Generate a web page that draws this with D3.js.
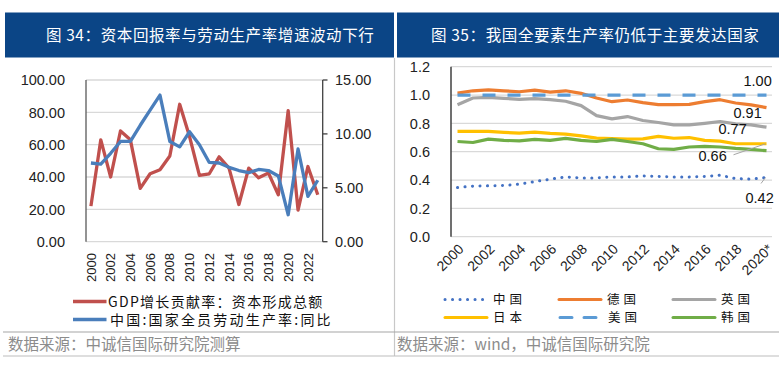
<!DOCTYPE html>
<html><head><meta charset="utf-8">
<script src="https://cdn.jsdelivr.net/npm/d3@7"></script>
<style>
body{margin:0;background:#fff;}
svg text{font-family:"Liberation Sans","Noto Sans CJK SC",sans-serif;}
.cjk{font-family:"Noto Sans CJK SC",sans-serif;}
</style></head>
<body><svg id="c" width="779" height="377"></svg>
<script>
// ---------- Left chart data ----------
const yearsL = d3.range(2000, 2024);
const capitalContrib = [22,63,40,68.5,63,33,42,44.5,53,85,65,41,42,52.5,45.5,23,45.5,39.5,42.5,29,81,19.5,46.5,29];
const laborProd = [7.3,7.2,8.2,9.3,9.3,10.8,12.2,13.6,9.3,8.8,10.2,9.0,7.35,7.3,6.9,6.6,6.4,6.7,6.6,6.1,2.5,8.6,4.2,5.7];
const leftTicksL = [0,20,40,60,80,100];
const rightTicksL = [0,5,10,15];
const seriesNamesL = ["GDP增长贡献率：资本形成总额","中国:国家全员劳动生产率:同比"];

// ---------- Right chart data ----------
const yearsR = d3.range(2000, 2021);
const china   = [0.347,0.357,0.359,0.361,0.371,0.389,0.406,0.422,0.415,0.415,0.422,0.422,0.429,0.425,0.422,0.422,0.425,0.434,0.41,0.406,0.418];
const germany = [1.014,1.03,1.037,1.03,1.023,1.035,1.021,1.03,1.012,0.979,0.953,0.965,0.946,0.932,0.932,0.934,0.953,0.967,0.944,0.93,0.911];
const uk      = [0.932,0.979,0.984,0.977,0.97,0.974,0.967,0.956,0.925,0.855,0.832,0.848,0.82,0.806,0.789,0.789,0.80,0.813,0.796,0.789,0.773];
const japan   = [0.743,0.743,0.743,0.736,0.731,0.738,0.729,0.724,0.712,0.696,0.692,0.689,0.691,0.708,0.695,0.70,0.68,0.675,0.656,0.656,0.656];
const usa     = [1,1,1,1,1,1,1,1,1,1,1,1,1,1,1,1,1,1,1,1,1];
const korea   = [0.672,0.665,0.689,0.68,0.677,0.687,0.68,0.694,0.68,0.672,0.687,0.672,0.656,0.621,0.616,0.633,0.637,0.633,0.623,0.616,0.607];
const ticksR = [0,0.2,0.4,0.6,0.8,1.0,1.2];
const xLabelsR = ["2000","2002","2004","2006","2008","2010","2012","2014","2016","2018","2020*"];

const svg = d3.select("#c");

// ---------- Headers ----------
const hdrColor = "#0b4586";
svg.append("rect").attr("x",5).attr("y",12.5).attr("width",389).attr("height",45).attr("fill",hdrColor);
svg.append("rect").attr("x",397).attr("y",12.5).attr("width",382).attr("height",45).attr("fill",hdrColor);
svg.append("text").attr("class","cjk").attr("x",46).attr("y",41).attr("fill","#fff")
  .attr("font-size",15.5).attr("letter-spacing",0.6).text("图 34：资本回报率与劳动生产率增速波动下行");
svg.append("text").attr("class","cjk").attr("x",431).attr("y",41).attr("fill","#fff")
  .attr("font-size",15.5).attr("letter-spacing",0.6).text("图 35：我国全要素生产率仍低于主要发达国家");

// dividers
svg.append("line").attr("x1",394.5).attr("x2",394.5).attr("y1",58).attr("y2",356).attr("stroke","#c8c8c8").attr("stroke-width",1.2);
svg.append("line").attr("x1",3).attr("x2",779).attr("y1",332).attr("y2",332).attr("stroke","#a6a6a6").attr("stroke-width",1.2);
svg.append("line").attr("x1",3).attr("x2",779).attr("y1",356).attr("y2",356).attr("stroke","#bdbdbd").attr("stroke-width",1.2);
svg.append("text").attr("class","cjk").attr("x",8).attr("y",349.5).attr("fill","#8c8c8c").attr("font-size",15.5).text("数据来源：中诚信国际研究院测算");
svg.append("text").attr("class","cjk").attr("x",397).attr("y",349.5).attr("fill","#8c8c8c").attr("font-size",15.5).text("数据来源：wind，中诚信国际研究院");

// ---------- Left chart ----------
{
  const x = d3.scaleBand().domain(yearsL).range([86, 322.7]);
  const cx = d => x(d) + x.bandwidth()/2;
  const yL = d3.scaleLinear().domain([0,100]).range([241.7, 80]);
  const yR = d3.scaleLinear().domain([0,15]).range([241.7, 80]);
  const g = svg.append("g");
  g.selectAll(".gl").data(leftTicksL).join("line")
    .attr("x1",86).attr("x2",322.7).attr("y1",d=>yL(d)).attr("y2",d=>yL(d))
    .attr("stroke","#d9d9d9").attr("stroke-width",1.3);
  g.append("line").attr("x1",86).attr("x2",86).attr("y1",80).attr("y2",241.7).attr("stroke","#595959").attr("stroke-width",1.3);
  g.append("line").attr("x1",322.7).attr("x2",322.7).attr("y1",80).attr("y2",241.7).attr("stroke","#404040").attr("stroke-width",1.3);
  g.selectAll(".rt").data(rightTicksL).join("line")
    .attr("x1",322.7).attr("x2",327.5).attr("y1",d=>yR(d)).attr("y2",d=>yR(d)).attr("stroke","#404040").attr("stroke-width",1.3);
  g.selectAll(".ltl").data(leftTicksL).join("text")
    .attr("x",65).attr("y",d=>yL(d)).attr("dy","0.36em").attr("text-anchor","end")
    .attr("font-size",14.5).attr("fill","#222").text(d=>d.toFixed(2));
  g.selectAll(".rtl").data(rightTicksL).join("text")
    .attr("x",335).attr("y",d=>yR(d)).attr("dy","0.36em")
    .attr("font-size",14.5).attr("fill","#222").text(d=>d.toFixed(2));
  g.selectAll(".xl").data(yearsL.filter(d=>d%2===0)).join("text")
    .attr("transform",d=>`translate(${cx(d)+4.6},253) rotate(-90)`)
    .attr("text-anchor","end").attr("font-size",13).attr("fill","#222").text(d=>d);
  const line1 = d3.line().x((d,i)=>cx(yearsL[i])).y(d=>yL(d));
  const line2 = d3.line().x((d,i)=>cx(yearsL[i])).y(d=>yR(d));
  g.append("path").attr("d",line1(capitalContrib)).attr("fill","none").attr("stroke","#c0504d").attr("stroke-width",3.3).attr("stroke-linejoin","round");
  g.append("path").attr("d",line2(laborProd)).attr("fill","none").attr("stroke","#4a7ebb").attr("stroke-width",3.3).attr("stroke-linejoin","round");
  // legend
  const lc = ["#c0504d","#4a7ebb"];
  const ly = [301.5, 319.5];
  seriesNamesL.forEach((n,i)=>{
    g.append("line").attr("x1",73).attr("x2",106.5).attr("y1",ly[i]).attr("y2",ly[i]).attr("stroke",lc[i]).attr("stroke-width",3.3);
    g.append("text").attr("class","cjk").attr("x",i===0?108:110).attr("y",ly[i]).attr("dy","0.36em")
      .attr("font-size",14).attr("letter-spacing",i===0?1.3:2.2).attr("fill","#111").text(n);
  });
}

// ---------- Right chart ----------
{
  const x = d3.scalePoint().domain(yearsR).range([457.5, 766.5]);
  const y = d3.scaleLinear().domain([0,1.2]).range([236.7, 66.7]);
  const g = svg.append("g");
  g.selectAll(".gl").data(ticksR).join("line")
    .attr("x1",451).attr("x2",772).attr("y1",d=>y(d)).attr("y2",d=>y(d))
    .attr("stroke","#d9d9d9").attr("stroke-width",1.3);
  g.append("line").attr("x1",451).attr("x2",451).attr("y1",66.7).attr("y2",236.7).attr("stroke","#404040").attr("stroke-width",1.5);
  g.selectAll(".yl").data(ticksR).join("text")
    .attr("x",430).attr("y",d=>y(d)).attr("dy","0.36em").attr("text-anchor","end")
    .attr("font-size",14.5).attr("fill","#222").text(d=>d.toFixed(1));
  g.selectAll(".xl").data(xLabelsR).join("text")
    .attr("transform",(d,i)=>`translate(${x(2000+2*i)+7},250) rotate(-45)`)
    .attr("text-anchor","end").attr("font-size",14).attr("fill","#222").text(d=>d);
  const series = [
    {v:germany, c:"#ed7d31", dash:null},
    {v:uk, c:"#a5a5a5", dash:null},
    {v:japan, c:"#ffc000", dash:null},
    {v:korea, c:"#70ad47", dash:null},
    {v:usa, c:"#5b9bd5", dash:"13 12"},
    {v:china, c:"#4472c4", dash:"0.1 7.4"}
  ];
  const ln = d3.line().x((d,i)=>x(yearsR[i])).y(d=>y(d));
  series.forEach(s=>{
    const dotted = s.dash && s.dash.startsWith("0.1");
    g.append("path").attr("d",ln(s.v)).attr("fill","none").attr("stroke",s.c)
      .attr("stroke-width",dotted?3:3.2)
      .attr("stroke-dasharray",s.dash).attr("stroke-linecap",dotted?"round":"butt")
      .attr("stroke-linejoin","round");
  });
  // data labels
  const last = yearsR.length-1, xl = x(yearsR[last]);
  const lab = (t,dx,yy)=>g.append("text").attr("x",xl+dx).attr("y",yy).attr("dy","0.36em").attr("font-size",14.5).attr("fill","#111").text(t);
  lab(usa[last].toFixed(2), -23, y(usa[last])-14);
  lab(germany[last].toFixed(2), -33, y(germany[last])+5.5);
  lab(uk[last].toFixed(2), -48, y(uk[last])+1.5);
  lab(japan[last].toFixed(2), -68, y(japan[last])+12);
  lab(china[last].toFixed(2), -21, y(china[last])+20.5);
  g.append("line").attr("x1",xl-33).attr("y1",y(japan[last])+11).attr("x2",xl-1).attr("y2",y(japan[last])).attr("stroke","#a5a5a5").attr("stroke-width",1);
  g.append("line").attr("x1",xl-5.5).attr("y1",y(china[last])+6).attr("x2",xl-1).attr("y2",y(china[last])).attr("stroke","#a5a5a5").attr("stroke-width",1);
  // legend
  const leg = [
    {n:"中国",c:"#4472c4",dash:"0.1 7.4",x:445,y:299.5},
    {n:"德国",c:"#ed7d31",dash:null,x:559,y:299.5},
    {n:"英国",c:"#a5a5a5",dash:null,x:673,y:299.5},
    {n:"日本",c:"#ffc000",dash:null,x:445,y:317.5},
    {n:"美国",c:"#5b9bd5",dash:"12 12",x:560,y:317.5},
    {n:"韩国",c:"#70ad47",dash:null,x:673,y:317.5}
  ];
  leg.forEach(l=>{
    g.append("line").attr("x1",l.x).attr("x2",l.x+42).attr("y1",l.y).attr("y2",l.y)
      .attr("stroke",l.c).attr("stroke-width",3).attr("stroke-dasharray",l.dash).attr("stroke-linecap","round");
    g.append("text").attr("class","cjk").attr("x",l.x+48).attr("y",l.y).attr("dy","0.36em")
      .attr("font-size",12.5).attr("letter-spacing",4).attr("fill","#111").text(l.n);
  });
}
</script></body></html>
